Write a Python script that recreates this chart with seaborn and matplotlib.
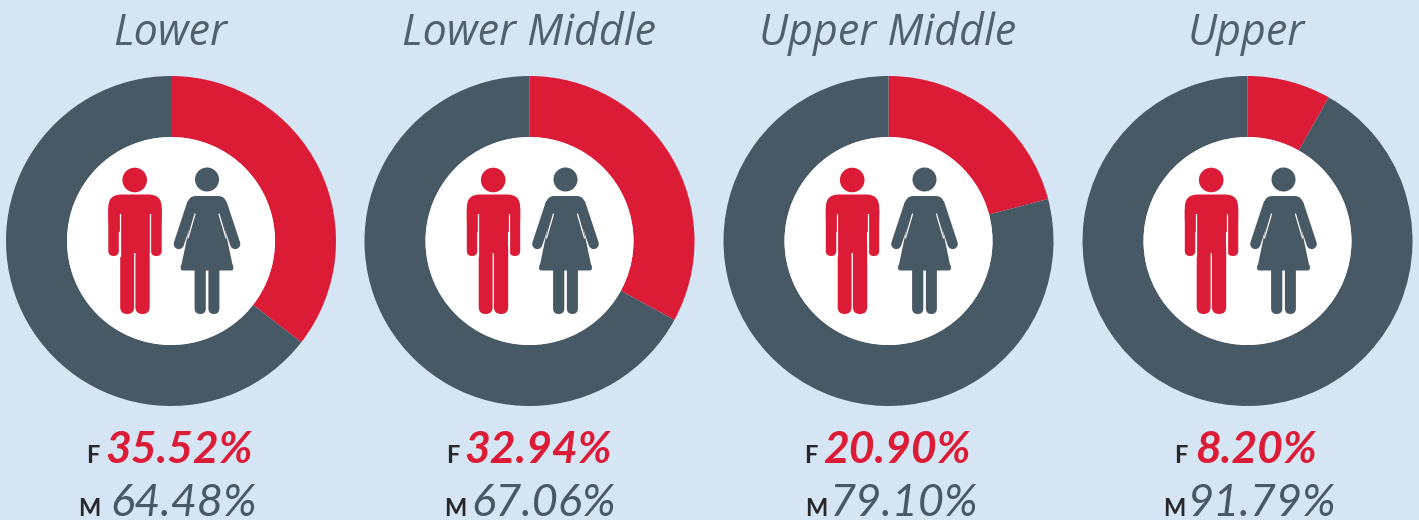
import matplotlib
matplotlib.use("Agg")
import matplotlib.pyplot as plt
import pandas as pd
import seaborn as sns
from matplotlib.patches import Circle, FancyBboxPatch, Polygon

# values
groups = ["Lower", "Lower Middle", "Upper Middle", "Upper"]
female = [35.52, 32.94, 20.90, 8.20]
male = [64.48, 67.06, 79.10, 91.79]

# donut centres and text anchors, in pixels
centres = [171, 529.5, 888.5, 1247.5]
f_label_x = [100, 460, 817, 1187]
f_value_x = [179, 538.5, 897, 1256]
m_label_x = [100, 466, 827, 1185]
m_value_x = [184, 544, 904, 1262]

RED = "#dc1c36"
SLATE = "#485966"
BG = "#d5e5f3"
TITLE = "#50606c"

sns.set_theme(style="white")
plt.rcParams["font.family"] = ["Lato", "DejaVu Sans"]

df = pd.DataFrame({"group": groups, "F": female, "M": male})

W, H = 1419, 520
fig = plt.figure(figsize=(W / 100, H / 100), dpi=100, facecolor=BG)

R = 165
cy = 241
for cx, (_, row) in zip(centres, df.iterrows()):
    ax = fig.add_axes([(cx - R) / W, 1 - (cy + R) / H, 2 * R / W, 2 * R / H])
    ax.pie([row["F"], row["M"]], colors=[RED, SLATE], startangle=90, counterclock=False,
           radius=1, wedgeprops={"width": 1 - 104 / R, "linewidth": 0})
    ax.set_xlim(-1, 1)
    ax.set_ylim(-1, 1)
    ax.axis("off")

# overlay in pixel coordinates for icons and text
ov = fig.add_axes([0, 0, 1, 1], zorder=5)
ov.set_xlim(0, W)
ov.set_ylim(H, 0)
ov.axis("off")
ov.patch.set_alpha(0)


def rbox(x0, y0, x1, y1, r, color):
    ov.add_patch(FancyBboxPatch((x0 + r, y0 + r), x1 - x0 - 2 * r, y1 - y0 - 2 * r,
                                boxstyle=f"round,pad={r},rounding_size={r}",
                                fc=color, ec="none"))


def man(cx):
    # offsets relative to the donut centre
    c = RED
    ov.add_patch(Circle((cx - 36.3, 180), 12.3, fc=c, ec="none"))
    rbox(cx - 62.7, 194.5, cx - 9.3, 232, 13, c)
    rbox(cx - 62.7, 205, cx - 52.2, 256, 5.2, c)
    rbox(cx - 20, 205, cx - 9.3, 256, 5.2, c)
    ov.add_patch(Polygon([(cx - 50.8, 205), (cx - 21.3, 205), (cx - 21.3, 253), (cx - 50.8, 253)],
                         fc=c, ec="none"))
    ov.plot([cx - 51.5, cx - 51.5], [214, 256], color="white", lw=0.9, zorder=6)
    ov.plot([cx - 20.6, cx - 20.6], [214, 256], color="white", lw=0.9, zorder=6)
    rbox(cx - 50.8, 240, cx - 36.9, 314, 6.9, c)
    rbox(cx - 35.6, 240, cx - 21.3, 314, 7, c)


def woman(cx):
    c = SLATE
    w = cx + 36
    ov.add_patch(Circle((w, 179.5), 12, fc=c, ec="none"))
    rbox(w - 19, 196, w + 19, 222, 8, c)
    ov.add_patch(Polygon([(w - 13, 205), (w + 13, 205), (w + 26, 267), (w + 26, 270),
                          (w - 26, 270), (w - 26, 267)], fc=c, ec="none"))
    rbox(w - 26.3, 264, w + 26.3, 270.5, 2.5, c)
    # arms
    ov.plot([w - 15, w - 28.2], [204, 244], color=c, lw=7.4, solid_capstyle="round")
    ov.plot([w + 15, w + 28.2], [204, 244], color=c, lw=7.4, solid_capstyle="round")
    ov.plot([w - 12, w - 19], [214, 238], color="white", lw=0.9, zorder=6)
    ov.plot([w + 12, w + 19], [214, 238], color="white", lw=0.9, zorder=6)
    # legs
    rbox(w - 12.4, 262, w - 1.2, 314, 5.6, c)
    rbox(w + 1.4, 262, w + 12.4, 314, 5.5, c)


for i, cx in enumerate(centres):
    ov.add_patch(Circle((cx, cy), 104, fc="white", ec="none", zorder=0.5))
    man(cx)
    woman(cx)
    ov.text(cx - 1, 45, groups[i], ha="center", va="baseline", fontsize=31,
            style="italic", color=TITLE, family=["Open Sans", "DejaVu Sans"])
    ov.text(f_label_x[i], 463, "F", ha="right", va="baseline", fontsize=17,
            fontweight="bold", color="#26282b")
    ov.text(f_value_x[i], 463, f"{female[i]:.2f}%", ha="center", va="baseline", fontsize=32,
            style="italic", fontweight="bold", color=RED)
    ov.text(m_label_x[i], 516, "M", ha="right", va="baseline", fontsize=17,
            fontweight="bold", color="#26282b")
    ov.text(m_value_x[i], 516, f"{male[i]:.2f}%", ha="center", va="baseline", fontsize=32.5,
            style="italic", color=SLATE)

fig.savefig("out.png", dpi=100, facecolor=BG)
